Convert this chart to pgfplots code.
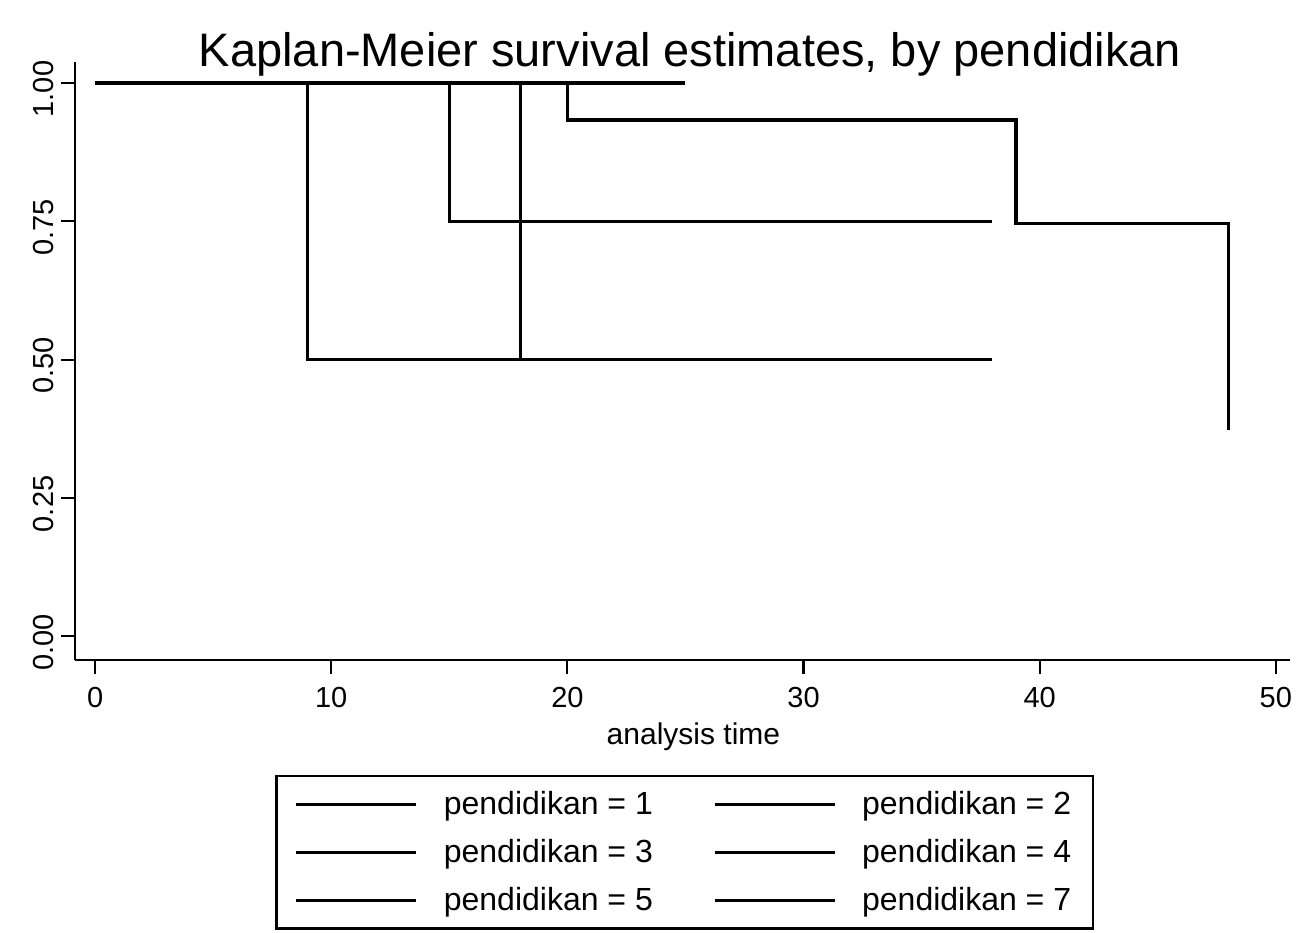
\documentclass[border=0pt]{standalone}
\usepackage{pgfplots}
\pgfplotsset{compat=1.18}
\usepackage{fontspec}
\setmainfont{Liberation Sans}
\begin{document}
\begin{tikzpicture}
\useasboundingbox (0pt,0pt) rectangle (648pt,466pt);
\begin{axis}[
  at={(37.5pt,136pt)}, anchor=south west,
  scale only axis, width=607.5pt, height=299pt,
  xmin=-0.85, xmax=50.6, ymin=-0.043, ymax=1.038,
  axis x line=bottom, axis y line=left,
  axis line style={-, line width=1.2pt},
  every tick/.style={black, line width=1.1pt},
  tick align=outside, major tick length=7pt,
  xtick={0,10,20,30,40,50},
  ytick={0,0.25,0.5,0.75,1},
  yticklabels={0.00,0.25,0.50,0.75,1.00},
  /pgf/number format/assume math mode=true,
  ticklabel style={font=\fontsize{14.5}{17}\selectfont},
  yticklabel style={rotate=90, anchor=south, xshift=-3pt},
  xticklabel style={anchor=north, yshift=-3pt},
  xlabel={analysis time},
  xlabel style={font=\fontsize{15}{18}\selectfont, at={(axis description cs:0.509,-0.129)}, anchor=center},
  cycle list={{black, solid}},
  legend columns=2,
  legend cell align=left,
  legend image code/.code={\draw[#1] (0pt,0pt) -- (60pt,0pt);},
  legend style={at={(axis description cs:0.502,-0.192)}, anchor=north,
    draw=black, line width=1.2pt, font=\fontsize{16}{19}\selectfont,
    row sep=7pt, inner xsep=9pt, inner ysep=5.5pt,
    /tikz/every odd column/.append style={column sep=11pt},
    /tikz/every even column/.append style={column sep=28pt}},
  every axis plot post/.append style={black, solid, line width=1.6pt, const plot, no marks},
]
\addplot coordinates {(0,1) (9,0.5) (38,0.5)};
\addlegendentry{pendidikan = 1}
\addplot coordinates {(0,1) (15,0.75) (38,0.75)};
\addlegendentry{pendidikan = 2}
\addplot coordinates {(0,1) (18,0.5) (38,0.5)};
\addlegendentry{pendidikan = 3}
\addplot coordinates {(0,1) (20,0.9333) (39,0.7467) (48,0.3733) (48,0.3733)};
\addlegendentry{pendidikan = 4}
\addplot coordinates {(0,1) (25,1)};
\addlegendentry{pendidikan = 5}
\addplot coordinates {(0,1) (16,1)};
\addlegendentry{pendidikan = 7}
\end{axis}
\node[font=\fontsize{23.5}{28}\selectfont] at (345pt,439pt) {Kaplan-Meier survival estimates, by pendidikan};
\end{tikzpicture}
\end{document}
